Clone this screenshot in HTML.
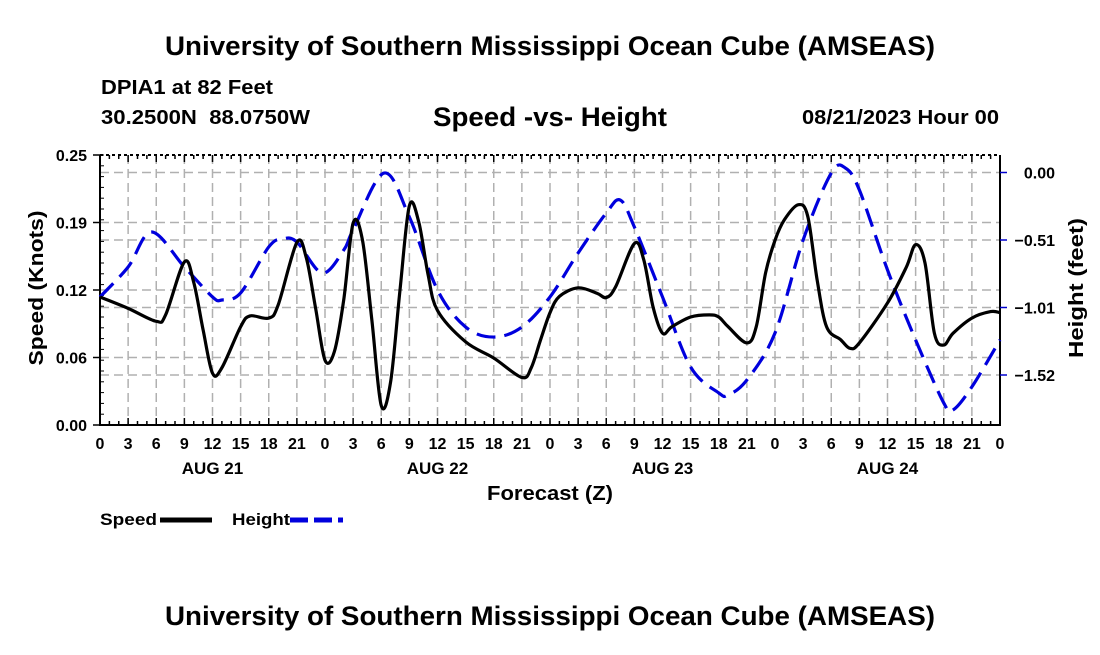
<!DOCTYPE html>
<html><head><meta charset="utf-8"><style>
body{margin:0;background:#fff;width:1100px;height:650px;overflow:hidden}
svg text{font-family:"Liberation Sans",sans-serif;font-weight:bold;fill:#000}
</style></head><body>
<svg id="chart" width="1100" height="650" viewBox="0 0 1100 650" xmlns="http://www.w3.org/2000/svg">
<text x="550" y="55" font-size="27" text-anchor="middle" textLength="770" lengthAdjust="spacingAndGlyphs">University of Southern Mississippi Ocean Cube (AMSEAS)</text>
<text x="101" y="94" font-size="20" textLength="172" lengthAdjust="spacingAndGlyphs">DPIA1 at 82 Feet</text>
<text x="101" y="124" font-size="20" textLength="209" lengthAdjust="spacingAndGlyphs" xml:space="preserve">30.2500N  88.0750W</text>
<text x="550" y="126" font-size="27" text-anchor="middle" textLength="234" lengthAdjust="spacingAndGlyphs">Speed -vs- Height</text>
<text x="999" y="124" font-size="20" text-anchor="end" textLength="197" lengthAdjust="spacingAndGlyphs">08/21/2023 Hour 00</text>
<g id="grid"></g><g id="axes"></g><g id="series"></g>
<text transform="translate(43,288) rotate(-90)" font-size="20" text-anchor="middle" textLength="155" lengthAdjust="spacingAndGlyphs">Speed (Knots)</text>
<text transform="translate(1083,288) rotate(-90)" font-size="20" text-anchor="middle" textLength="140" lengthAdjust="spacingAndGlyphs">Height (feet)</text>
<text x="550" y="500" font-size="20" text-anchor="middle" textLength="126" lengthAdjust="spacingAndGlyphs">Forecast (Z)</text>
<g>
<text x="100" y="525" font-size="17" textLength="57" lengthAdjust="spacingAndGlyphs">Speed</text>
<line x1="160" y1="520" x2="212" y2="520" stroke="#000" stroke-width="5"/>
<text x="232" y="525" font-size="17" textLength="58" lengthAdjust="spacingAndGlyphs">Height</text>
<line x1="290" y1="520" x2="343" y2="520" stroke="#0000dd" stroke-width="5" stroke-dasharray="18,6"/>
</g>
<text x="550" y="625" font-size="27" text-anchor="middle" textLength="770" lengthAdjust="spacingAndGlyphs">University of Southern Mississippi Ocean Cube (AMSEAS)</text>
</svg>
<script>
const speedHours=[0,3,6,7,9,10,11,12,13,15,16,18,19,21,22,23,24,25,26,27,28,29,30,31,32,33,34,35,36,39,42,45,46,47,48,49,51,53,54,55,57,58,59,60,61,63,65,66,67,69,70,71,72,73,74.5,75.5,76.5,77.5,79,80,81,84,86,87,88,89,90,91,93,95,96];
const speedValues=[0.1185,0.108,0.096,0.102,0.151,0.132,0.088,0.048,0.053,0.091,0.101,0.099,0.111,0.169,0.155,0.108,0.060,0.068,0.116,0.187,0.171,0.097,0.018,0.040,0.125,0.203,0.188,0.139,0.106,0.077,0.062,0.044,0.053,0.079,0.104,0.119,0.127,0.122,0.118,0.128,0.168,0.153,0.109,0.085,0.091,0.100,0.102,0.100,0.091,0.076,0.091,0.141,0.171,0.190,0.204,0.193,0.134,0.091,0.079,0.071,0.076,0.113,0.146,0.167,0.150,0.085,0.074,0.085,0.099,0.105,0.104];
const heightHours=[0,3,5.5,9,12,13,15,18,19.5,21,23.7,26,27,30.3,33,36,39,42,45,48,51,54,55.5,57,60,63,66,67,69,72,75,78,79.5,81,84,87,90,91,93,96];
const heightValues=[-0.931,-0.707,-0.445,-0.707,-0.931,-0.954,-0.901,-0.557,-0.497,-0.520,-0.752,-0.580,-0.430,-0.004,-0.333,-0.879,-1.156,-1.231,-1.156,-0.931,-0.602,-0.303,-0.206,-0.408,-0.931,-1.455,-1.649,-1.664,-1.552,-1.201,-0.505,-0.004,0.034,-0.131,-0.729,-1.253,-1.724,-1.776,-1.604,-1.253];
const speedTicks=[0,0.0625,0.125,0.1875,0.25];
const speedTickLabels=["0.00","0.06","0.12","0.19","0.25"];
const heightTicks=[0,-0.505,-1.01,-1.515];
const heightTickLabels=["0.00","\u22120.51","\u22121.01","\u22121.52"];
const dayLabels=["AUG 21","AUG 22","AUG 23","AUG 24"];

const L=100,R=1000,T=155,B=425;
const NS="http://www.w3.org/2000/svg";
const xS=h=>L+h/96*(R-L);
const yS=v=>B-v/0.25*(B-T);
const yH=v=>172.5-v/1.515*202.5;
function mk(tag,attrs,parent){const e=document.createElementNS(NS,tag);for(const k in attrs)e.setAttribute(k,attrs[k]);parent.appendChild(e);return e;}
const gridG=document.getElementById('grid'),axesG=document.getElementById('axes'),seriesG=document.getElementById('series');
const gs={stroke:"#b0b0b0","stroke-width":1.5,"stroke-dasharray":"9,5"};
for(let h=3;h<96;h+=3){const l=mk('line',Object.assign({x1:xS(h),x2:xS(h),y1:T,y2:B},gs),gridG);

}
speedTicks.slice(1,4).forEach(v=>{const l=mk('line',Object.assign({x1:L,x2:R,y1:yS(v),y2:yS(v)},gs),gridG);

});
heightTicks.forEach(v=>{const l=mk('line',Object.assign({x1:L,x2:R,y1:yH(v),y2:yH(v)},gs),gridG);

});
const frameEl=mk('path',{d:`M${L},${T}V${B}H${R}V${T}`,fill:"none",stroke:"#000","stroke-width":2},axesG);


const topBorder=mk('line',{x1:L,x2:R,y1:T,y2:T,stroke:"#000","stroke-width":2,"stroke-dasharray":"3,3"},axesG);


for(let h=0;h<=96;h++){const len=h%3==0?7:4;
mk('line',{x1:xS(h),x2:xS(h),y1:B,y2:B-len,stroke:"#000","stroke-width":1.5},axesG);
mk('line',{x1:xS(h),x2:xS(h),y1:T,y2:T+len,stroke:"#000","stroke-width":1.5},axesG);
if(h%3==0){const t=mk('text',{x:xS(h),y:449,"font-size":16,"text-anchor":"middle"},axesG);t.textContent=String(h%24);

}}
dayLabels.forEach((d,i)=>{const t=mk('text',{x:xS(i*24+12),y:474,"font-size":17,"text-anchor":"middle"},axesG);t.textContent=d;

});
speedTicks.forEach((v,i)=>{mk('line',{x1:L-7,x2:L,y1:yS(v),y2:yS(v),stroke:"#000","stroke-width":1.5},axesG);
const t=mk('text',{x:87,y:yS(v)+6,"font-size":16,"text-anchor":"end"},axesG);t.textContent=speedTickLabels[i];

});
for(let k=0;k<=25;k++){const yy=B-k*(B-T)/25;mk('line',{x1:L,x2:L+4,y1:yy,y2:yy,stroke:"#000","stroke-width":1},axesG);}
heightTicks.forEach((v,i)=>{mk('line',{x1:R,x2:R+7,y1:yH(v),y2:yH(v),stroke:"#0000cc","stroke-width":1.5},axesG);
const t=mk('text',{x:1055,y:yH(v)+6,"font-size":16,"text-anchor":"end"},axesG);t.textContent=heightTickLabels[i];

});
function smooth(pts){let d=`M${pts[0][0]},${pts[0][1]}`;for(let i=0;i<pts.length-1;i++){const p0=pts[i-1]||pts[i],p1=pts[i],p2=pts[i+1],p3=pts[i+2]||p2;
const c1=[p1[0]+(p2[0]-p0[0])/6,p1[1]+(p2[1]-p0[1])/6],c2=[p2[0]-(p3[0]-p1[0])/6,p2[1]-(p3[1]-p1[1])/6];
d+=`C${c1[0]},${c1[1]} ${c2[0]},${c2[1]} ${p2[0]},${p2[1]}`;}return d;}
const hp=mk('path',{d:smooth(heightHours.map((h,i)=>[xS(h),yH(heightValues[i])])),fill:"none",stroke:"#0000dd","stroke-width":3.2,"stroke-dasharray":"19,9"},seriesG);


const sp=mk('path',{d:smooth(speedHours.map((h,i)=>[xS(h),yS(speedValues[i])])),fill:"none",stroke:"#000","stroke-width":3.2,"stroke-linejoin":"round"},seriesG);


</script>
</body></html>
